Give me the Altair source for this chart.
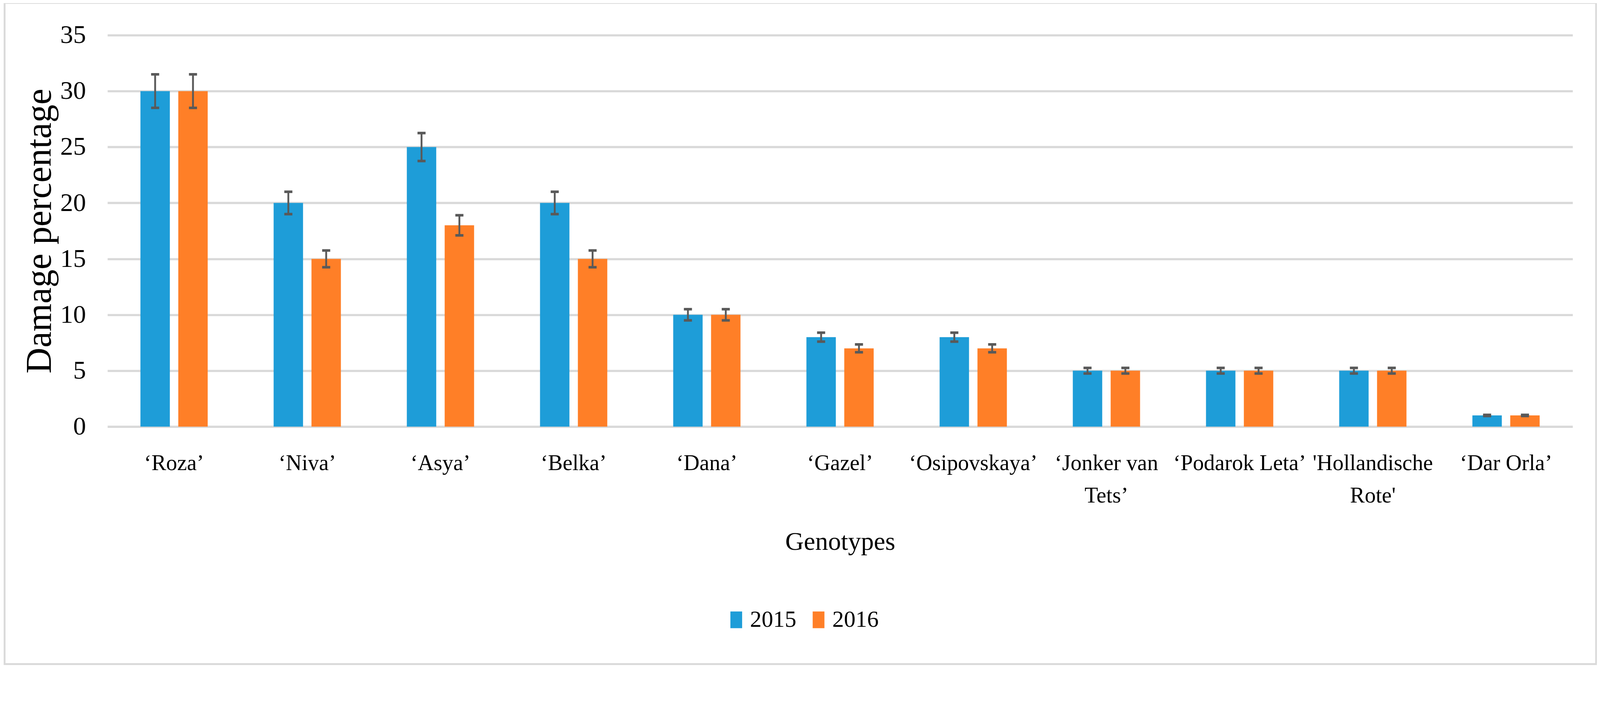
import json
import altair as alt
import pandas as pd

# ---- data ----
genotypes = ["‘Roza’", "‘Niva’", "‘Asya’", "‘Belka’", "‘Dana’", "‘Gazel’",
             "‘Osipovskaya’", "‘Jonker van Tets’", "‘Podarok Leta’",
             "'Hollandische Rote'", "‘Dar Orla’"]
years = ["2015", "2016"]
damage_2015 = [30, 20, 25, 20, 10, 8, 8, 5, 5, 5, 1]
damage_2016 = [30, 15, 18, 15, 10, 7, 7, 5, 5, 5, 1]
err_2015 = [1.5, 1.0, 1.25, 1.0, 0.5, 0.4, 0.4, 0.25, 0.25, 0.25, 0.05]
err_2016 = [1.5, 0.75, 0.9, 0.75, 0.5, 0.35, 0.35, 0.25, 0.25, 0.25, 0.05]
y_ticks = [0, 5, 10, 15, 20, 25, 30, 35]
# two-line tick labels as in the original
wrapped = {"‘Jonker van Tets’": ["‘Jonker van", "Tets’"],
           "'Hollandische Rote'": ["'Hollandische", "Rote'"]}

rows = []
for yr, vals, errs in ((years[0], damage_2015, err_2015), (years[1], damage_2016, err_2016)):
    for g, v, e in zip(genotypes, vals, errs):
        rows.append({"genotype": g, "year": yr, "value": v, "lo": v - e, "hi": v + e})
df = pd.DataFrame(rows)

label_expr = "datum.label"
for k, v in wrapped.items():
    label_expr = ("datum.label == " + json.dumps(k, ensure_ascii=False) + " ? "
                  + json.dumps(v, ensure_ascii=False) + " : " + label_expr)

FONT = "Liberation Serif"
W, H = 3988, 1065
TOP = 32
BLUE, ORANGE, ERR = "#1E9DD8", "#FF7F27", "#595959"

x_axis = alt.Axis(
    title="Genotypes", labelExpr=label_expr, labelFont=FONT, labelFontSize=60,
    labelColor="black", labelPadding=118, labelBaseline="alphabetic",
    labelLineHeight=88, labelAngle=0, labelLimit=2000, labelOverlap=False,
    ticks=False, tickSize=0, domain=False, grid=False,
    titleFont=FONT, titleFontSize=70, titleFontWeight="normal", titleColor="black",
    titleX=W / 2, titleY=335, titleBaseline="alphabetic", titleAlign="center")

y_axis = alt.Axis(
    title="Damage percentage", values=y_ticks, labelFont=FONT, labelFontSize=70,
    labelColor="black", labelPadding=59, ticks=False, tickSize=0, domain=False,
    grid=True, gridColor="#D9D9D9", gridWidth=6,
    titleFont=FONT, titleFontSize=98, titleFontWeight="normal", titleColor="black",
    titleAngle=-90, titleX=-155, titleY=H / 2, titleBaseline="alphabetic",
    titleAlign="center")

x_scale = alt.Scale(paddingInner=0.495, paddingOuter=0.2475)
off_scale = alt.Scale(paddingInner=0.223, paddingOuter=0)
y_scale = alt.Scale(domain=[0, 35])

base = alt.Chart(df)
X = alt.X("genotype:N", sort=genotypes, scale=x_scale, axis=x_axis)
XO = alt.XOffset("year:N", sort=years, scale=off_scale)

bars = base.mark_bar().encode(
    x=X, xOffset=XO,
    y=alt.Y("value:Q", scale=y_scale, axis=y_axis),
    color=alt.Color("year:N", sort=years,
                    scale=alt.Scale(domain=years, range=[BLUE, ORANGE]),
                    legend=alt.Legend(
                        title=None, orient="none", legendX=1680, legendY=1559,
                        direction="horizontal",
                        symbolType="M-1,-1.42H1V1.42H-1Z", symbolSize=1024,
                        symbolStrokeWidth=0, labelFont=FONT, labelFontSize=63,
                        labelColor="black", labelOffset=6, columnPadding=29,
                        padding=0)),
)

stems = base.mark_rule(color=ERR, strokeWidth=5).encode(
    x=X, xOffset=XO,
    y=alt.Y("lo:Q", scale=y_scale, axis=y_axis),
    y2="hi:Q",
)
caps_lo = base.mark_tick(color=ERR, size=22, thickness=7, opacity=1).encode(
    x=X, xOffset=XO,
    y=alt.Y("lo:Q", scale=y_scale, axis=y_axis),
)
caps_hi = base.mark_tick(color=ERR, size=22, thickness=7, opacity=1).encode(
    x=X, xOffset=XO,
    y=alt.Y("hi:Q", scale=y_scale, axis=y_axis),
)

border = alt.Chart(pd.DataFrame({"k": [0]})).mark_rect(
    filled=False, stroke="#D9D9D9", strokeWidth=5).encode(
    x=alt.value(-280), x2=alt.value(4052), y=alt.value(-88), y2=alt.value(1711))

chart = alt.layer(bars, stems, caps_lo, caps_hi, border).properties(
    width=W, height=H,
    padding={"left": 284, "top": TOP, "right": 66, "bottom": 650},
    autosize=alt.AutoSizeParams(type="none"),
    background="white",
).configure_view(strokeWidth=0)

chart.save("out.html", embed_options={"renderer": "svg", "actions": False})
